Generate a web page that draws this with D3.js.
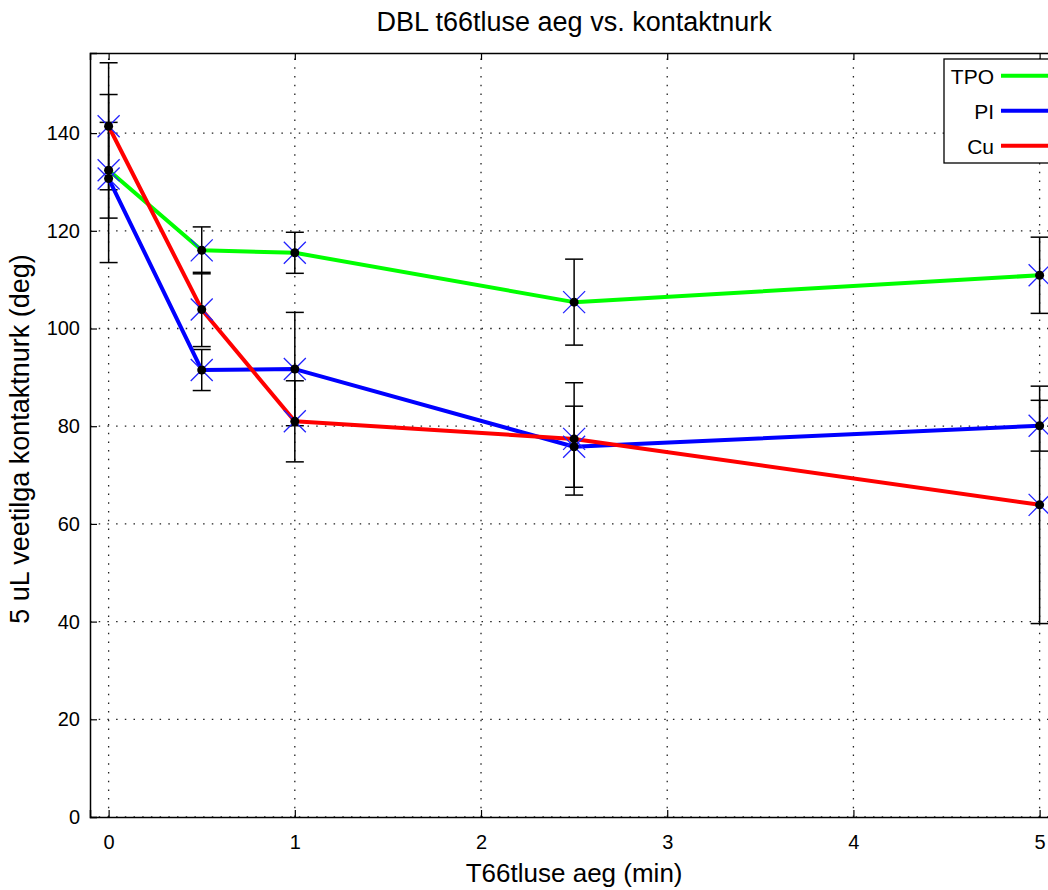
<!DOCTYPE html>
<html>
<head>
<meta charset="utf-8">
<script src="https://cdn.jsdelivr.net/npm/d3@7"></script>
<style>
  body { margin: 0; background: #fff; }
  svg { display: block; font-family: "Liberation Sans", Arial, sans-serif; }
</style>
</head>
<body>
<div id="chart"></div>
<script>
// data
const times = [0, 0.5, 1, 2.5, 5];
const seriesNames = ["TPO", "PI", "Cu"];
const tpoValues = [132.4, 116.0, 115.5, 105.4, 110.9];
const tpoErrors = [9.8, 4.8, 4.2, 8.8, 7.8];
const piValues = [130.7, 91.5, 91.7, 75.8, 80.1];
const piErrors = [17.2, 4.2, 11.6, 8.3, 5.2];
const cuValues = [141.4, 103.9, 81.0, 77.4, 63.9];
const cuErrors = [13.0, 7.6, 8.3, 11.5, 24.3];
const xTicks = [0, 1, 2, 3, 4, 5];
const yTicks = [0, 20, 40, 60, 80, 100, 120, 140];
const lineColors = ["#00ff00", "#0000ff", "#ff0000"];

const width = 1048, height = 890;
const plotLeft = 90, plotTop = 53, plotBottom = 817;

const svg = d3.select("#chart").append("svg")
    .attr("width", width)
    .attr("height", height);

const x = d3.scaleLinear().domain([-0.1, 5.1]).range([plotLeft, plotLeft + 186.2 * 5.2]);
const y = d3.scaleLinear().domain([0, 156.4]).range([plotBottom, plotTop]);
const plotRight = x(5.1);

const series = [
    {name: seriesNames[0], values: tpoValues, errors: tpoErrors, color: lineColors[0]},
    {name: seriesNames[1], values: piValues, errors: piErrors, color: lineColors[1]},
    {name: seriesNames[2], values: cuValues, errors: cuErrors, color: lineColors[2]}
];

// grid
const grid = svg.append("g").attr("stroke", "#222").attr("stroke-width", 1.3)
    .attr("stroke-dasharray", "1.5,7.2");
grid.selectAll(".gx").data(xTicks).enter().append("line")
    .attr("x1", d => x(d)).attr("x2", d => x(d))
    .attr("y1", plotBottom).attr("y2", plotTop);
grid.selectAll(".gy").data(yTicks).enter().append("line")
    .attr("x1", plotLeft).attr("x2", plotRight)
    .attr("y1", d => y(d)).attr("y2", d => y(d));

// axes with inward ticks
const axisB = d3.axisBottom(x).tickValues(xTicks).tickSize(-7).tickPadding(18).tickFormat(d3.format("d"));
const axisL = d3.axisLeft(y).tickValues(yTicks).tickSize(-7).tickPadding(10).tickFormat(d3.format("d"));
const axisT = d3.axisTop(x).tickValues(xTicks).tickSize(-7).tickFormat("");
const axisR = d3.axisRight(y).tickValues(yTicks).tickSize(-7).tickFormat("");

[[axisB, `translate(0,${plotBottom})`], [axisL, `translate(${plotLeft},0)`],
 [axisT, `translate(0,${plotTop})`], [axisR, `translate(${plotRight},0)`]].forEach(([ax, tr]) => {
    const g = svg.append("g").attr("transform", tr).call(ax);
    g.select(".domain").attr("stroke", "#000").attr("stroke-width", 1.5);
    g.selectAll(".tick line").attr("stroke", "#000").attr("stroke-width", 1.2);
    g.selectAll(".tick text").attr("fill", "#000").style("font-size", "20px");
});

// error bars
const capHalf = 9;
series.forEach(s => {
    const eb = svg.append("g").attr("stroke", "#000").attr("stroke-width", 1.5);
    times.forEach((t, i) => {
        const lo = y(s.values[i] - s.errors[i]), hi = y(s.values[i] + s.errors[i]);
        eb.append("line").attr("x1", x(t)).attr("x2", x(t)).attr("y1", lo).attr("y2", hi);
        eb.append("line").attr("x1", x(t) - capHalf).attr("x2", x(t) + capHalf).attr("y1", lo).attr("y2", lo);
        eb.append("line").attr("x1", x(t) - capHalf).attr("x2", x(t) + capHalf).attr("y1", hi).attr("y2", hi);
    });
});

// lines
const line = d3.line().x((d, i) => x(times[i])).y(d => y(d));
series.forEach(s => {
    svg.append("path")
        .datum(s.values)
        .attr("fill", "none")
        .attr("stroke", s.color)
        .attr("stroke-width", 4)
        .attr("stroke-linejoin", "round")
        .attr("d", line);
});

// markers: blue crosses and black dots
const cross = 11;
series.forEach(s => {
    const m = svg.append("g");
    times.forEach((t, i) => {
        const cx = x(t), cy = y(s.values[i]);
        m.append("path")
            .attr("d", `M${cx - cross},${cy - cross}L${cx + cross},${cy + cross}M${cx - cross},${cy + cross}L${cx + cross},${cy - cross}`)
            .attr("stroke", "#2222ff").attr("stroke-width", 1.3).attr("fill", "none");
    });
});
series.forEach(s => {
    svg.append("g").selectAll("circle").data(s.values).enter().append("circle")
        .attr("cx", (d, i) => x(times[i]))
        .attr("cy", d => y(d))
        .attr("r", 4.5)
        .attr("fill", "#000");
});

// legend
const legend = svg.append("g");
legend.append("rect")
    .attr("x", 944).attr("y", 59).attr("width", 120).attr("height", 104)
    .attr("fill", "#fff").attr("stroke", "#000").attr("stroke-width", 1.3);
series.forEach((s, i) => {
    const ly = 75.7 + i * 35;
    legend.append("text")
        .attr("x", 994).attr("y", ly).attr("dy", "0.4em")
        .attr("text-anchor", "end").style("font-size", "21px")
        .text(s.name);
    legend.append("line")
        .attr("x1", 1001).attr("x2", 1060).attr("y1", ly).attr("y2", ly)
        .attr("stroke", s.color).attr("stroke-width", 4);
});

// titles
svg.append("text")
    .attr("x", (plotLeft + plotRight) / 2).attr("y", 31)
    .attr("text-anchor", "middle").style("font-size", "27px")
    .text("DBL t66tluse aeg vs. kontaktnurk");
svg.append("text")
    .attr("x", (plotLeft + plotRight) / 2).attr("y", 882)
    .attr("text-anchor", "middle").style("font-size", "26px")
    .text("T66tluse aeg (min)");
svg.append("text")
    .attr("transform", `translate(29,${(plotTop + plotBottom) / 2 + 4}) rotate(-90)`)
    .attr("text-anchor", "middle").style("font-size", "27px")
    .text("5 uL veetilga kontaktnurk (deg)");
</script>
</body>
</html>
